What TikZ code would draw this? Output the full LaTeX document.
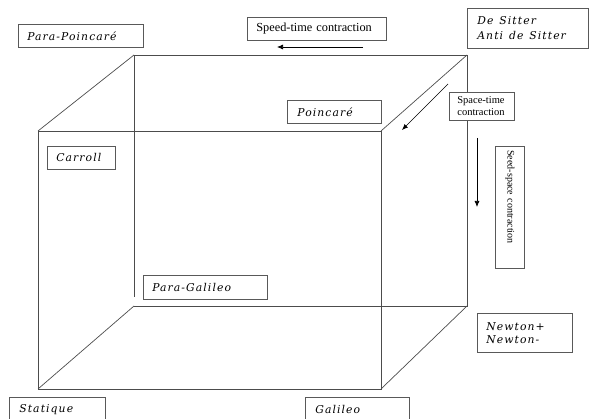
\documentclass[tikz,border=0pt]{standalone}
\usepackage{fontspec}
\usetikzlibrary{arrows.meta}
\newfontfamily\plainfont{Liberation Serif}
\newfontfamily\calfont{DejaVu Serif}[LetterSpace=10]
\tikzset{
  edge/.style={draw=black!70, line width=0.7pt},
  arr/.style={draw=black, line width=0.7pt, -{Latex[length=6pt,width=5pt]}},
  labelbox/.style={draw=black!65, line width=0.7pt, fill=white, anchor=north west,
    inner xsep=9pt, inner ysep=1pt, align=left,
    font=\calfont\itshape\fontsize{10.8}{15}\selectfont},
  notebox/.style={draw=black!65, line width=0.7pt, fill=white, anchor=north west,
    inner xsep=8pt, inner ysep=1pt, align=left,
    font=\plainfont\fontsize{11}{12}\selectfont}
}
\newcommand\wsp{\hspace{0.55em}}
\begin{document}
\begin{tikzpicture}[x=1pt,y=-1pt]
  \useasboundingbox (0,0) rectangle (590,419);
  \clip (0,0) rectangle (590,419);

  % cube
  \coordinate (ftl) at (38,131);
  \coordinate (ftr) at (381,131);
  \coordinate (fbr) at (381,389);
  \coordinate (fbl) at (38,389);
  \coordinate (btl) at (134,55);
  \coordinate (btr) at (467,55);
  \coordinate (bbr) at (467,306);
  \coordinate (bbl) at (134,306);
  \coordinate (bgap) at (134,297);

  \draw[edge] (ftl) -- (ftr) -- (fbr) -- (fbl) -- cycle;
  \draw[edge] (bbl) -- (bbr) -- (btr) -- (btl) -- (bgap);
  \draw[edge] (ftl) -- (btl);
  \draw[edge] (ftr) -- (btr);
  \draw[edge] (fbr) -- (bbr);
  \draw[edge] (fbl) -- (bbl);

  % groups
  \node[labelbox, text width=107pt, minimum height=23pt] (parapoincare) at (18,24) {Para-Poincaré};
  \node[labelbox, text width=101pt, minimum height=40pt, inner xsep=10pt] (desitter) at (467,8) {De\wsp Sitter\\Anti\wsp de\wsp Sitter};
  \node[labelbox, text width=74pt, minimum height=23pt, inner xsep=10pt] (poincare) at (287,100) {Poincaré};
  \node[labelbox, text width=50pt, minimum height=23pt] (carroll) at (47,146) {Carroll};
  \node[labelbox, text width=106pt, minimum height=24pt] (paragalileo) at (143,275) {Para-Galileo};
  \node[labelbox, text width=77pt, minimum height=39pt, font=\calfont\itshape\fontsize{10.8}{13}\selectfont] (newton) at (477,313) {Newton+\\Newton-};
  \node[labelbox, text width=76pt, minimum height=24pt, inner xsep=10pt] (statique) at (9,397) {Statique};
  \node[labelbox, text width=84pt, minimum height=24pt, inner xsep=10pt] (galileo) at (305,397) {Galileo};

  % contractions
  \node[notebox, text width=121pt, minimum height=23pt, inner xsep=9pt, font=\plainfont\fontsize{12.3}{13}\selectfont] (speedtime) at (247,17) {Speed-time contraction};
  \node[notebox, text width=49pt, minimum height=28pt, font=\plainfont\fontsize{10.5}{12}\selectfont] (spacetime) at (449,92) {Space-time\\contraction};
  \node[notebox, rotate=-90, text width=114pt, minimum height=29pt, inner xsep=4pt,
        font=\plainfont\fontsize{10}{11}\selectfont] (seedspace) at (525,146) {Seed-space contraction};

  \coordinate (st1) at (363,47);
  \coordinate (st2) at (277,47);
  \coordinate (sp1) at (448,84);
  \coordinate (sp2) at (402,130);
  \coordinate (ss1) at (477,138);
  \coordinate (ss2) at (477,207);
  \draw[arr] (st1) -- (st2);
  \draw[arr] (sp1) -- (sp2);
  \draw[arr] (ss1) -- (ss2);
\end{tikzpicture}
\end{document}
